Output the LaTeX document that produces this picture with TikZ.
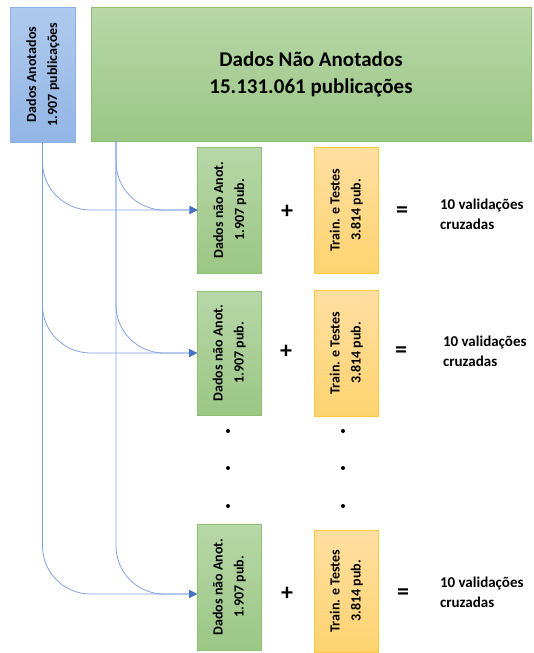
\documentclass[tikz,border=0pt]{standalone}
\usepackage{fontspec}
\setmainfont{Carlito}
\usetikzlibrary{arrows.meta}
\definecolor{anntop}{HTML}{B0CAEE}
\definecolor{annbot}{HTML}{92B5E6}
\definecolor{annline}{HTML}{8CB1E3}
\definecolor{grntop}{HTML}{B7D7A8}
\definecolor{grnbot}{HTML}{9BC785}
\definecolor{grnline}{HTML}{8EC073}
\definecolor{orgtop}{HTML}{FFDFA2}
\definecolor{orgbot}{HTML}{FFD370}
\definecolor{orgline}{HTML}{FFC935}
\definecolor{connline}{HTML}{7FA2E2}
\definecolor{tipblue}{HTML}{4472C4}
\newcommand{\vlabel}[2]{\rotatebox{90}{\begin{tabular}{@{}c@{}}#1\\#2\end{tabular}}}

\begin{document}
\begin{tikzpicture}[x=1pt,y=-1pt,inner sep=0pt,outer sep=0pt,
annbox/.style={draw=annline,line width=0.8pt,top color=anntop,bottom color=annbot,minimum width=65pt,minimum height=135pt,font=\fontsize{14}{21}\selectfont\bfseries},
bigbox/.style={draw=grnline,line width=0.8pt,top color=grntop,bottom color=grnbot,minimum width=440pt,minimum height=134pt,align=center,font=\fontsize{21}{27}\selectfont\bfseries},
subbox/.style={draw=grnline,line width=0.8pt,top color=grntop,bottom color=grnbot,minimum width=64pt,minimum height=126pt,font=\fontsize{14}{21}\selectfont\bfseries},
trainbox/.style={draw=orgline,line width=0.8pt,top color=orgtop,bottom color=orgbot,minimum width=64pt,minimum height=126pt,font=\fontsize{14}{21}\selectfont\bfseries},
opsign/.style={font=\fontsize{24}{24}\selectfont\bfseries},
result/.style={anchor=west,align=left,font=\fontsize{15}{20}\selectfont\bfseries},
conn/.style={draw=connline,line width=0.8pt,rounded corners=48pt,-{Triangle[length=8pt,width=8pt,color=tipblue]}}]
\useasboundingbox (0,0) rectangle (534,653);

\draw (42.5,74.5) node[annbox] (ann) {\vlabel{Dados Anotados}{1.907 publicações}};
\draw (311,74) node[bigbox] (big) {Dados Não Anotados\\15.131.061 publicações};
\coordinate (gline) at (116,141);

% first fold
\draw (229.5,210) node[subbox] (sub1) {\vlabel{Dados não Anot.}{1.907 pub.}};
\draw (346,210) node[trainbox] (train1) {\vlabel{Train. e Testes}{3.814 pub.}};
\draw (287,212) node[opsign] (plus1) {+};
\draw (402,212) node[opsign] (eq1) {=};
\draw (440,214) node[result] (res1) {10 validações\\cruzadas};

% second fold
\draw (229,353) node[subbox,minimum height=124pt] (sub2) {\vlabel{Dados não Anot.}{1.907 pub.}};
\draw (346,353) node[trainbox] (train2) {\vlabel{Train. e Testes}{3.814 pub.}};
\draw (286,352) node[opsign] (plus2) {+};
\draw (401,352) node[opsign] (eq2) {=};
\draw (443,351) node[result] (res2) {10 validações\\cruzadas};

% dots
\fill (228,431) circle (2) (228,468) circle (2) (228,506) circle (2);
\fill (343,431) circle (2) (343,468) circle (2) (343,506) circle (2);

% last fold
\draw (229,587) node[subbox] (sub3) {\vlabel{Dados não Anot.}{1.907 pub.}};
\draw (346,591) node[trainbox,minimum height=122pt] (train3) {\vlabel{Train. e Testes}{3.814 pub.}};
\draw (287,594) node[opsign] (plus3) {+};
\draw (403,594) node[opsign] (eq3) {=};
\draw (440,592) node[result] (res3) {10 validações\\cruzadas};

\draw[conn] (ann.south) |- (sub1.west);
\draw[conn] (gline) |- (sub1.west);
\draw[conn] (ann.south) |- (sub2.west);
\draw[conn] (gline) |- (sub2.west);
\draw[conn] (ann.south) |- ([yshift=-7pt]sub3.west);
\draw[conn] (gline) |- ([yshift=-7pt]sub3.west);

\end{tikzpicture}
\end{document}
